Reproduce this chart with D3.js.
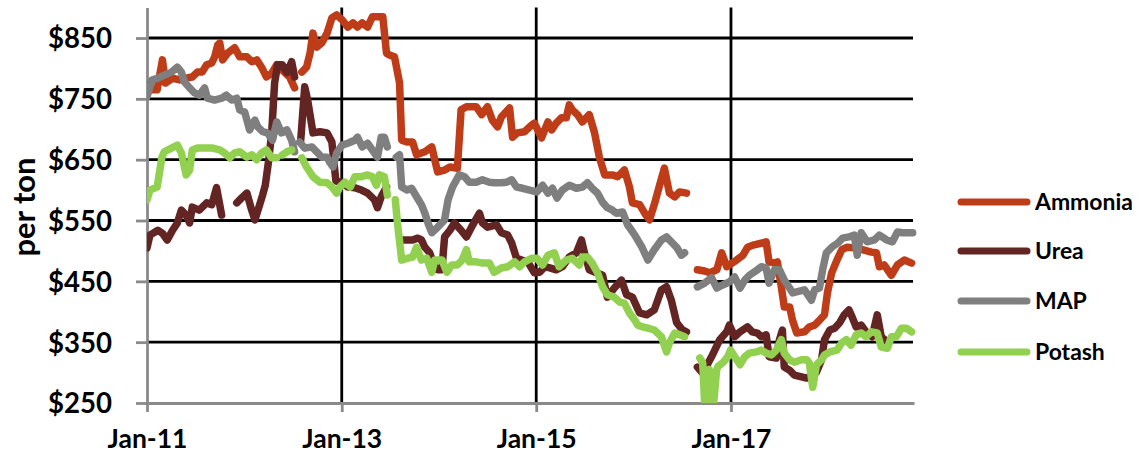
<!DOCTYPE html>
<html><head><meta charset="utf-8">
<script src="https://cdn.jsdelivr.net/npm/d3@7"></script>
<style>
body{margin:0;background:#fff}
svg{display:block}
text{font-family:Lato,"Open Sans",sans-serif;font-weight:700;fill:#000}
</style>
</head><body>
<svg id="c" width="1141" height="466"></svg>
<script>
// ---------- DATA (date, $ per ton); null marks a break in the line ----------
const ammonia = [
["2011-01-01",773],["2011-01-12",765],["2011-02-08",765],["2011-02-28",814],["2011-03-11",776],["2011-04-07",784],["2011-05-03",781],["2011-05-28",784],["2011-06-20",786],["2011-07-09",794],["2011-07-27",794],["2011-08-13",806],["2011-09-01",809],["2011-09-12",819],["2011-09-23",838],["2011-10-01",842],["2011-10-12",814],["2011-10-30",825],["2011-11-26",834],["2011-12-15",819],["2012-01-11",819],["2012-01-29",811],["2012-02-17",814],["2012-03-06",802],["2012-03-24",786],["2012-04-13",792],["2012-05-02",806],["2012-05-23",797],["2012-06-19",786],["2012-07-08",768],["2012-07-20",null],
["2012-08-04",794],["2012-08-22",802],["2012-09-04",825],["2012-09-15",858],["2012-09-29",835],["2012-10-18",842],["2012-11-07",858],["2012-11-25",883],["2012-12-13",888],["2013-01-02",880],["2013-01-24",868],["2013-02-12",875],["2013-03-01",868],["2013-03-19",875],["2013-04-08",868],["2013-04-26",885],["2013-06-04",885],["2013-06-18",825],["2013-06-29",822],["2013-07-18",819],["2013-08-06",776],["2013-08-14",682],["2013-09-03",679],["2013-09-24",679],["2013-10-09",658],["2013-11-09",663],["2013-12-05",671],["2013-12-16",650],["2013-12-27",630],["2014-01-22",633],["2014-02-11",638],["2014-03-11",636],["2014-03-25",732],["2014-04-14",737],["2014-05-21",737],["2014-06-10",724],["2014-07-02",737],["2014-07-20",715],["2014-08-09",704],["2014-08-23",720],["2014-09-23",735],["2014-10-04",687],["2014-10-22",694],["2014-11-18",696],["2014-12-15",707],["2014-12-25",710],["2015-01-21",686],["2015-02-14",712],["2015-02-28",699],["2015-03-17",710],["2015-04-06",719],["2015-04-24",719],["2015-05-05",740],["2015-05-16",732],["2015-06-05",724],["2015-06-23",712],["2015-07-19",724],["2015-08-08",694],["2015-08-26",654],["2015-09-15",625],["2015-10-14",625],["2015-11-03",622],["2015-11-28",633],["2015-12-17",605],["2015-12-28",579],["2016-01-24",576],["2016-02-12",562],["2016-03-01",551],["2016-03-19",576],["2016-04-08",608],["2016-04-26",636],["2016-05-15",595],["2016-06-04",589],["2016-06-22",597],["2016-07-18",595],["2016-08-10",null],
["2016-08-28",469],["2016-09-24",467],["2016-10-13",464],["2016-11-09",469],["2016-11-27",497],["2016-12-16",474],["2016-12-26",477],["2017-01-22",485],["2017-02-15",493],["2017-03-04",506],["2017-03-29",510],["2017-04-28",513],["2017-05-13",515],["2017-05-24",482],["2017-06-13",480],["2017-06-24",482],["2017-07-09",441],["2017-07-20",408],["2017-08-09",408],["2017-08-20",386],["2017-09-05",365],["2017-10-04",367],["2017-10-22",375],["2017-11-11",378],["2017-11-29",386],["2017-12-18",395],["2017-12-29",431],["2018-01-14",464],["2018-02-03",485],["2018-02-21",502],["2018-03-13",506],["2018-04-09",505],["2018-05-09",502],["2018-06-12",498],["2018-07-01",497],["2018-07-12",474],["2018-07-30",477],["2018-08-26",460],["2018-09-18",477],["2018-10-14",485],["2018-11-10",480]
];
const urea = [
["2011-01-01",505],["2011-01-12",526],["2011-02-11",534],["2011-02-28",529],["2011-03-18",518],["2011-04-07",534],["2011-04-25",546],["2011-05-10",567],["2011-05-28",559],["2011-06-10",546],["2011-06-20",572],["2011-07-16",567],["2011-08-13",579],["2011-09-01",576],["2011-09-19",604],["2011-10-01",576],["2011-10-08",559],["2011-11-01",null],
["2011-12-04",579],["2011-12-22",587],["2012-01-11",595],["2012-01-29",567],["2012-02-10",551],["2012-02-28",576],["2012-03-10",592],["2012-03-20",608],["2012-04-02",650],["2012-04-13",694],["2012-04-24",776],["2012-05-05",806],["2012-05-23",806],["2012-06-09",793],["2012-06-27",811],["2012-07-08",786],["2012-07-20",null],
["2012-07-31",682],["2012-08-15",770],["2012-08-26",748],["2012-09-15",694],["2012-10-11",696],["2012-11-07",694],["2012-11-25",679],["2012-12-10",615],["2013-01-02",613],["2013-01-24",605],["2013-02-19",604],["2013-03-16",600],["2013-04-08",595],["2013-05-04",584],["2013-05-15",571],["2013-05-29",589],["2013-06-18",605],["2013-07-15",null],
["2013-08-14",518],["2013-09-03",518],["2013-09-24",518],["2013-10-13",521],["2013-10-27",518],["2013-11-09",506],["2013-11-27",497],["2013-12-16",474],["2013-12-27",469],["2014-01-12",469],["2014-01-22",523],["2014-02-11",534],["2014-02-28",546],["2014-03-25",534],["2014-04-14",523],["2014-05-03",539],["2014-06-02",562],["2014-06-13",546],["2014-07-02",539],["2014-08-05",543],["2014-08-23",530],["2014-09-16",526],["2014-10-01",513],["2014-10-19",488],["2014-11-08",485],["2014-11-30",482],["2014-12-25",464],["2015-01-14",465],["2015-02-03",474],["2015-02-21",472],["2015-03-17",469],["2015-04-09",474],["2015-05-05",490],["2015-06-01",497],["2015-06-20",518],["2015-07-01",497],["2015-07-19",469],["2015-08-15",464],["2015-09-07",460],["2015-09-25",424],["2015-10-21",439],["2015-11-17",452],["2015-12-06",428],["2015-12-28",424],["2016-01-24",398],["2016-02-20",395],["2016-03-19",403],["2016-04-15",436],["2016-05-04",441],["2016-05-22",419],["2016-06-11",382],["2016-07-03",370],["2016-07-18",367],["2016-08-10",null],
["2016-08-28",309],["2016-09-17",299],["2016-10-20",326],["2016-11-20",354],["2016-12-16",367],["2016-12-26",378],["2017-01-15",359],["2017-02-04",367],["2017-03-04",375],["2017-03-22",367],["2017-04-10",365],["2017-04-25",359],["2017-05-13",362],["2017-05-24",326],["2017-06-20",324],["2017-07-02",354],["2017-07-13",370],["2017-07-20",309],["2017-08-09",304],["2017-08-27",296],["2017-09-23",293],["2017-10-12",291],["2017-10-30",293],["2017-11-18",301],["2017-12-07",321],["2017-12-18",354],["2018-01-07",370],["2018-01-25",373],["2018-02-13",382],["2018-03-02",395],["2018-03-20",403],["2018-04-02",390],["2018-04-16",375],["2018-05-05",378],["2018-05-23",367],["2018-06-15",359],["2018-07-04",395],["2018-07-19",359],["2018-08-11",350]
];
const map = [
["2011-01-01",753],["2011-01-19",781],["2011-02-11",784],["2011-03-07",789],["2011-04-03",794],["2011-04-25",802],["2011-05-10",794],["2011-05-21",778],["2011-06-10",768],["2011-06-28",760],["2011-07-16",756],["2011-08-05",768],["2011-08-16",751],["2011-09-12",748],["2011-10-08",751],["2011-10-26",756],["2011-11-15",748],["2011-12-04",751],["2011-12-15",732],["2012-01-03",728],["2012-01-21",699],["2012-02-10",715],["2012-02-21",704],["2012-03-10",696],["2012-03-28",694],["2012-04-16",682],["2012-05-02",712],["2012-05-20",694],["2012-06-09",699],["2012-06-27",682],["2012-07-08",663],["2012-07-18",null],
["2012-07-27",679],["2012-08-15",669],["2012-09-11",671],["2012-09-29",663],["2012-10-18",654],["2012-11-07",654],["2012-11-18",645],["2012-11-29",638],["2012-12-13",661],["2013-01-02",674],["2013-01-24",677],["2013-02-19",682],["2013-03-01",687],["2013-03-19",671],["2013-04-08",677],["2013-04-26",666],["2013-05-15",654],["2013-05-29",687],["2013-06-10",687],["2013-06-21",671],["2013-07-10",null],
["2013-07-25",654],["2013-08-06",658],["2013-08-14",605],["2013-09-03",600],["2013-09-20",603],["2013-10-09",589],["2013-10-27",576],["2013-11-09",562],["2013-11-23",543],["2013-12-05",530],["2013-12-27",539],["2014-01-22",551],["2014-02-04",584],["2014-02-21",605],["2014-03-18",625],["2014-04-07",622],["2014-04-25",613],["2014-05-21",613],["2014-06-13",617],["2014-07-09",613],["2014-07-27",612],["2014-08-23",612],["2014-09-12",613],["2014-10-01",617],["2014-10-19",605],["2014-11-11",603],["2014-12-07",600],["2015-01-03",597],["2015-01-25",608],["2015-02-14",595],["2015-03-03",603],["2015-03-20",587],["2015-04-09",600],["2015-05-05",608],["2015-06-01",603],["2015-06-23",605],["2015-07-12",612],["2015-07-30",603],["2015-08-19",595],["2015-09-07",580],["2015-09-25",571],["2015-10-14",567],["2015-10-29",562],["2015-11-21",564],["2015-12-10",543],["2016-01-06",526],["2016-02-02",506],["2016-02-24",485],["2016-03-19",502],["2016-04-15",518],["2016-05-04",523],["2016-05-22",515],["2016-06-11",506],["2016-06-29",493],["2016-07-11",497],["2016-08-10",null],
["2016-08-28",441],["2016-09-24",447],["2016-10-20",456],["2016-11-09",439],["2016-12-01",444],["2016-12-26",449],["2017-01-15",457],["2017-02-04",439],["2017-02-22",452],["2017-03-11",460],["2017-04-10",469],["2017-04-25",474],["2017-05-13",472],["2017-05-24",447],["2017-06-13",469],["2017-07-02",469],["2017-07-20",452],["2017-08-09",439],["2017-08-20",431],["2017-09-08",433],["2017-10-04",436],["2017-10-30",419],["2017-11-11",436],["2017-11-29",439],["2017-12-11",469],["2017-12-25",497],["2018-01-14",506],["2018-02-06",513],["2018-02-24",521],["2018-03-20",523],["2018-04-09",526],["2018-04-20",493],["2018-05-05",530],["2018-05-27",515],["2018-06-23",518],["2018-07-12",526],["2018-08-08",518],["2018-08-30",515],["2018-09-18",531],["2018-10-07",530],["2018-11-14",530]
];
const potash = [
["2011-01-01",584],["2011-01-12",600],["2011-02-08",605],["2011-02-26",654],["2011-03-07",663],["2011-04-03",669],["2011-04-25",674],["2011-05-10",661],["2011-05-28",625],["2011-06-10",633],["2011-06-20",666],["2011-07-09",669],["2011-08-05",669],["2011-09-05",669],["2011-10-01",666],["2011-10-19",661],["2011-11-08",653],["2011-11-26",661],["2011-12-15",663],["2012-01-11",654],["2012-01-29",658],["2012-02-17",650],["2012-03-06",661],["2012-03-24",666],["2012-04-13",653],["2012-05-02",653],["2012-05-12",null],
["2012-05-23",658],["2012-06-09",663],["2012-06-27",666],["2012-07-20",null],
["2012-08-04",653],["2012-08-22",638],["2012-09-15",622],["2012-10-11",613],["2012-11-07",612],["2012-11-25",605],["2012-12-13",595],["2012-12-25",605],["2013-01-13",613],["2013-02-02",605],["2013-02-19",622],["2013-03-16",622],["2013-04-08",625],["2013-04-26",622],["2013-05-11",608],["2013-05-22",625],["2013-06-10",622],["2013-06-21",592],["2013-07-08",null],
["2013-07-21",584],["2013-07-29",546],["2013-08-14",485],["2013-09-06",488],["2013-09-24",490],["2013-10-09",506],["2013-10-27",485],["2013-11-16",488],["2013-12-05",465],["2013-12-16",485],["2014-01-12",485],["2014-01-31",465],["2014-02-18",477],["2014-03-11",477],["2014-03-29",485],["2014-04-14",502],["2014-04-25",482],["2014-05-21",482],["2014-06-13",480],["2014-07-09",480],["2014-07-27",465],["2014-08-23",472],["2014-09-16",474],["2014-10-12",482],["2014-10-31",474],["2014-11-18",482],["2014-12-15",488],["2015-01-03",488],["2015-01-25",477],["2015-02-14",493],["2015-03-10",497],["2015-03-28",474],["2015-04-24",485],["2015-05-16",488],["2015-06-12",477],["2015-06-23",490],["2015-07-12",490],["2015-07-30",480],["2015-08-19",464],["2015-09-07",441],["2015-09-25",428],["2015-10-21",424],["2015-11-10",416],["2015-11-28",414],["2015-12-17",398],["2016-01-06",386],["2016-01-17",378],["2016-02-05",375],["2016-02-24",373],["2016-03-19",370],["2016-04-15",359],["2016-05-04",334],["2016-05-15",349],["2016-06-04",365],["2016-06-22",362],["2016-07-11",359],["2016-08-15",null],
["2016-09-06",324],["2016-09-17",316],["2016-09-24",250],["2016-09-30",300],["2016-10-05",250],["2016-10-11",305],["2016-10-16",250],["2016-10-22",300],["2016-10-28",250],["2016-11-08",304],["2016-11-13",310],["2016-12-01",316],["2016-12-20",326],["2016-12-30",337],["2017-01-15",326],["2017-02-04",313],["2017-02-22",326],["2017-03-11",332],["2017-04-07",334],["2017-04-25",337],["2017-05-13",332],["2017-06-02",329],["2017-06-20",337],["2017-07-09",354],["2017-07-20",332],["2017-08-09",321],["2017-08-27",317],["2017-09-23",321],["2017-10-12",321],["2017-10-22",316],["2017-11-04",276],["2017-11-18",313],["2017-12-07",321],["2017-12-18",329],["2018-01-07",334],["2018-02-03",337],["2018-02-21",349],["2018-03-10",354],["2018-03-28",345],["2018-04-16",362],["2018-05-05",365],["2018-05-23",359],["2018-06-12",367],["2018-07-04",365],["2018-07-19",342],["2018-08-11",340],["2018-08-26",359],["2018-09-14",359],["2018-10-03",373],["2018-10-21",373],["2018-11-10",367]
];
const seriesNames  = ["Ammonia","Urea","MAP","Potash"];
const seriesColors = ["#BE3C17","#632523","#7F7F7F","#92D050"];
const yTickValues  = [250,350,450,550,650,750,850];
const xTickDates   = ["2011-01-01","2013-01-01","2015-01-01","2017-01-01"];
const yAxisTitle   = "per ton";

// ---------- LAYOUT ----------
const parse = d3.timeParse("%Y-%m-%d");
const L = 147, R = 914, T = 7.6, B = 403;
const x = d3.scaleTime().domain([parse("2011-01-01"), parse("2018-11-19")]).range([L, R]);
const y = d3.scaleLinear().domain([250, 900]).range([B, T]);
const svg = d3.select("#c");

function fitFont(sel, sample, target){
  const t = svg.append("text").style("font-size","20px").text(sample);
  const w = t.node().getComputedTextLength(); t.remove();
  const fs = 20 * target / w;
  sel.style("font-size", fs + "px");
  return fs;
}

// gridlines
svg.append("g").selectAll("line").data(yTickValues.filter(v => v > 250)).join("line")
  .attr("x1", L).attr("x2", 913).attr("y1", d => y(d)).attr("y2", d => y(d))
  .attr("stroke", "#000").attr("stroke-width", 2.8);
svg.append("g").selectAll("line").data(xTickDates.slice(1).map(parse)).join("line")
  .attr("x1", d => x(d)).attr("x2", d => x(d)).attr("y1", T).attr("y2", B)
  .attr("stroke", "#000").attr("stroke-width", 2.8);

// y axis
const gy = svg.append("g").attr("transform", `translate(${L},0)`)
  .call(d3.axisLeft(y).tickValues(yTickValues).tickFormat(d => "$" + d).tickSize(11).tickSizeOuter(0).tickPadding(24));
gy.select(".domain").attr("stroke", "#8a8a8a").attr("stroke-width", 2.8);
gy.selectAll(".tick line").attr("stroke", "#8a8a8a").attr("stroke-width", 2.8);
gy.selectAll(".tick text").attr("font-family", null).attr("font-size", null).attr("dy", "0.36em");
fitFont(gy.selectAll(".tick text"), "$850", 64);

// x axis
const gx = svg.append("g").attr("transform", `translate(0,${B})`)
  .call(d3.axisBottom(x).tickValues(xTickDates.map(parse)).tickFormat(d3.timeFormat("%b-%y")).tickSize(9).tickSizeOuter(0).tickPadding(17));
gx.select(".domain").attr("stroke", "#8a8a8a").attr("stroke-width", 2.8);
gx.selectAll(".tick line").attr("stroke", "#8a8a8a").attr("stroke-width", 2.8);
gx.selectAll(".tick text").attr("font-family", null).attr("font-size", null);
fitFont(gx.selectAll(".tick text"), "Jan-11", 80);

// y title
const yt = svg.append("text").attr("transform", "translate(24,207) rotate(-90)")
  .attr("text-anchor", "middle").attr("dy", "0.35em").text(yAxisTitle);
fitFont(yt, yAxisTitle, 99);

// clip
svg.append("clipPath").attr("id", "clip").append("rect")
  .attr("x", L).attr("y", 0).attr("width", R - L + 4).attr("height", B);

const line = d3.line()
  .defined(d => d[1] !== null)
  .x(d => x(parse(d[0])))
  .y(d => y(d[1]));

const allSeries = [ammonia, urea, map, potash];
svg.append("g").attr("clip-path", "url(#clip)")
  .selectAll("path").data(allSeries).join("path")
  .attr("d", line)
  .attr("fill", "none")
  .attr("stroke", (d, i) => seriesColors[i])
  .attr("stroke-width", 7.5)
  .attr("stroke-linejoin", "round")
  .attr("stroke-linecap", "round");

// legend
const legY = [202, 251, 301, 352];
const lg = svg.append("g");
lg.selectAll("line").data(seriesNames).join("line")
  .attr("x1", 961).attr("x2", 1027).attr("y1", (d, i) => legY[i]).attr("y2", (d, i) => legY[i])
  .attr("stroke", (d, i) => seriesColors[i]).attr("stroke-width", 7).attr("stroke-linecap", "round");
const lt = lg.selectAll("text").data(seriesNames).join("text")
  .attr("x", 1035).attr("y", (d, i) => legY[i]).attr("dy", "0.36em").text(d => d);
fitFont(lt, "Ammonia", 98);
</script>
</body></html>
